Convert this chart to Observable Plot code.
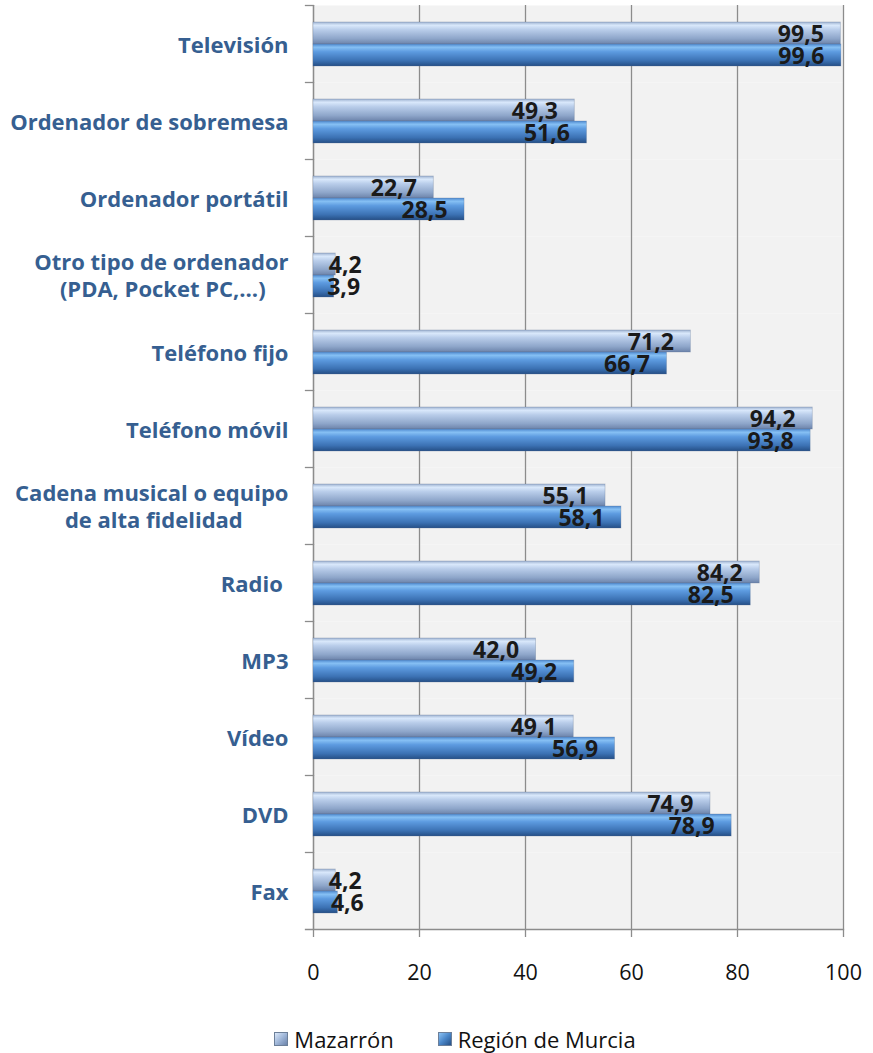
<!DOCTYPE html>
<html>
<head>
<meta charset="utf-8">
<script src="https://cdn.jsdelivr.net/npm/d3@7"></script>
<script src="https://cdn.jsdelivr.net/npm/@observablehq/plot@0.6"></script>
<style>
  body { margin: 0; background: #fff; font-family: "Open Sans", sans-serif; }
  #legend { display: flex; justify-content: center; gap: 44px; padding-left: 37px; margin-top: 34px; font-size: 22px; color: #111; }
  #legend span.item { display: flex; align-items: center; gap: 6px; }
  #legend span.sw { width: 14px; height: 14px; display: inline-block; border: 1px solid #6c7f99; box-sizing: border-box; }
</style>
</head>
<body>
<div id="chart"></div>
<script>
const categories = [
  "Televisión",
  "Ordenador de sobremesa",
  "Ordenador portátil",
  "Otro tipo de ordenador\n(PDA, Pocket PC,…)",
  "Teléfono fijo",
  "Teléfono móvil",
  "Cadena musical o equipo\nde alta fidelidad",
  "Radio ",
  "MP3",
  "Vídeo",
  "DVD",
  "Fax"
];
const series = ["Mazarrón", "Región de Murcia"];
const mazarron = [99.5, 49.3, 22.7, 4.2, 71.2, 94.2, 55.1, 84.2, 42.0, 49.1, 74.9, 4.2];
const murcia   = [99.6, 51.6, 28.5, 3.9, 66.7, 93.8, 58.1, 82.5, 49.2, 56.9, 78.9, 4.6];
const xTicks = [0, 20, 40, 60, 80, 100];

const fills = {"Mazarrón": "url(#gMaz)", "Región de Murcia": "url(#gMur)"};
const data = categories.flatMap((c, i) => [
  {category: c, series: series[0], value: mazarron[i]},
  {category: c, series: series[1], value: murcia[i]}
]);
const fmt = v => v.toFixed(1).replace(".", ",");
const gridColor = "#8c8c8c";
const catFont = "bold 22px 'Open Sans'";

// center the lines of multi-line category labels (right-aligned block)
const ctx = document.createElement("canvas").getContext("2d");
ctx.font = catFont;
const NBSP = "\u00a0";
const nbspW = ctx.measureText(NBSP).width || 5.7;
function catLabel(c) {
  const lines = c.split("\n");
  if (lines.length === 1) return c.replace(/ +$/, m => NBSP.repeat(m.length));
  const ws = lines.map(l => ctx.measureText(l).width);
  const wmax = Math.max(...ws);
  return lines.map((l, i) => l + NBSP.repeat(Math.round((wmax - ws[i]) / 2 / nbspW))).join("\n");
}

function defs() {
  const ns = "http://www.w3.org/2000/svg";
  const d = document.createElementNS(ns, "defs");
  const mk = (id, stops) => {
    const g = document.createElementNS(ns, "linearGradient");
    g.setAttribute("id", id);
    g.setAttribute("x1", "0"); g.setAttribute("y1", "0");
    g.setAttribute("x2", "0"); g.setAttribute("y2", "1");
    for (const [o, c] of stops) {
      const s = document.createElementNS(ns, "stop");
      s.setAttribute("offset", o); s.setAttribute("stop-color", c);
      g.appendChild(s);
    }
    d.appendChild(g);
  };
  mk("gMaz", [["0", "#9fb3d1"], ["0.15", "#d9e8fb"], ["0.35", "#b9cdea"], ["0.75", "#8ea6ca"], ["1", "#6c83aa"]]);
  mk("gMur", [["0", "#4f8ad0"], ["0.15", "#86c0f4"], ["0.35", "#5d9be0"], ["0.75", "#3c72b4"], ["1", "#254f86"]]);
  return d;
}

const chart = Plot.plot({
  width: 873,
  height: 990,
  marginLeft: 313,
  marginRight: 30,
  marginTop: 1,
  marginBottom: 57,
  style: {fontFamily: "'Open Sans', sans-serif", background: "#fff"},
  x: {domain: [0, 100]},
  fy: {domain: categories, padding: 0},
  y: {domain: series, paddingInner: 0, paddingOuter: 0.745, axis: null},
  marks: [
    defs,
    Plot.frame({fill: "#f2f2f2", stroke: "none"}),
    Plot.gridX(xTicks, {stroke: gridColor, strokeOpacity: 1, strokeWidth: 1.3}),
    Plot.frame({anchor: "top", stroke: gridColor, strokeWidth: 1.3, insetLeft: -8, insetRight: 530}),
    Plot.frame({anchor: "bottom", stroke: gridColor, strokeWidth: 1.3, insetLeft: -8, fy: () => "Fax"}),
    Plot.ruleX([0], {stroke: gridColor, strokeWidth: 1.3}),
    Plot.barX(data, {
      x: "value", y: "series", fy: "category",
      fill: d => fills[d.series],
      stroke: "#5a6f90", strokeOpacity: 0.35, strokeWidth: 0.8
    }),
    Plot.text(data.filter(d => d.value >= 10), {
      x: "value", y: "series", fy: "category", text: d => fmt(d.value),
      textAnchor: "end", dx: -17, dy: 1, fontSize: 23, fontWeight: "bold", fill: "#1a1a1a"
    }),
    Plot.text(data.filter(d => d.value < 10), {
      x: "value", y: "series", fy: "category", text: d => fmt(d.value),
      textAnchor: "start", dx: -7, dy: 1, fontSize: 23, fontWeight: "bold", fill: "#1a1a1a"
    }),
    Plot.axisFy({
      anchor: "left", label: null, tickSize: 0, tickPadding: 25, tickFormat: catLabel,
      fontSize: 22, fontWeight: "bold", fill: "#365f91", lineHeight: 1.23
    }),
    Plot.axisX({
      ticks: xTicks, label: null, tickSize: 8, tickPadding: 27,
      fontSize: 21.5, fill: "#111", stroke: gridColor, strokeWidth: 1.3
    })
  ]
});

document.getElementById("chart").appendChild(chart);

const legend = document.createElement("div");
legend.id = "legend";
legend.innerHTML = series.map(s => {
  const grad = s === series[0]
    ? "linear-gradient(135deg, #dbe8f9, #9fb6d8 50%, #6c83aa)"
    : "linear-gradient(135deg, #8cc2f4, #4a86c8 50%, #254f86)";
  return `<span class="item"><span class="sw" style="background:${grad}"></span><span>${s}</span></span>`;
}).join("");
document.body.appendChild(legend);
</script>
</body>
</html>
